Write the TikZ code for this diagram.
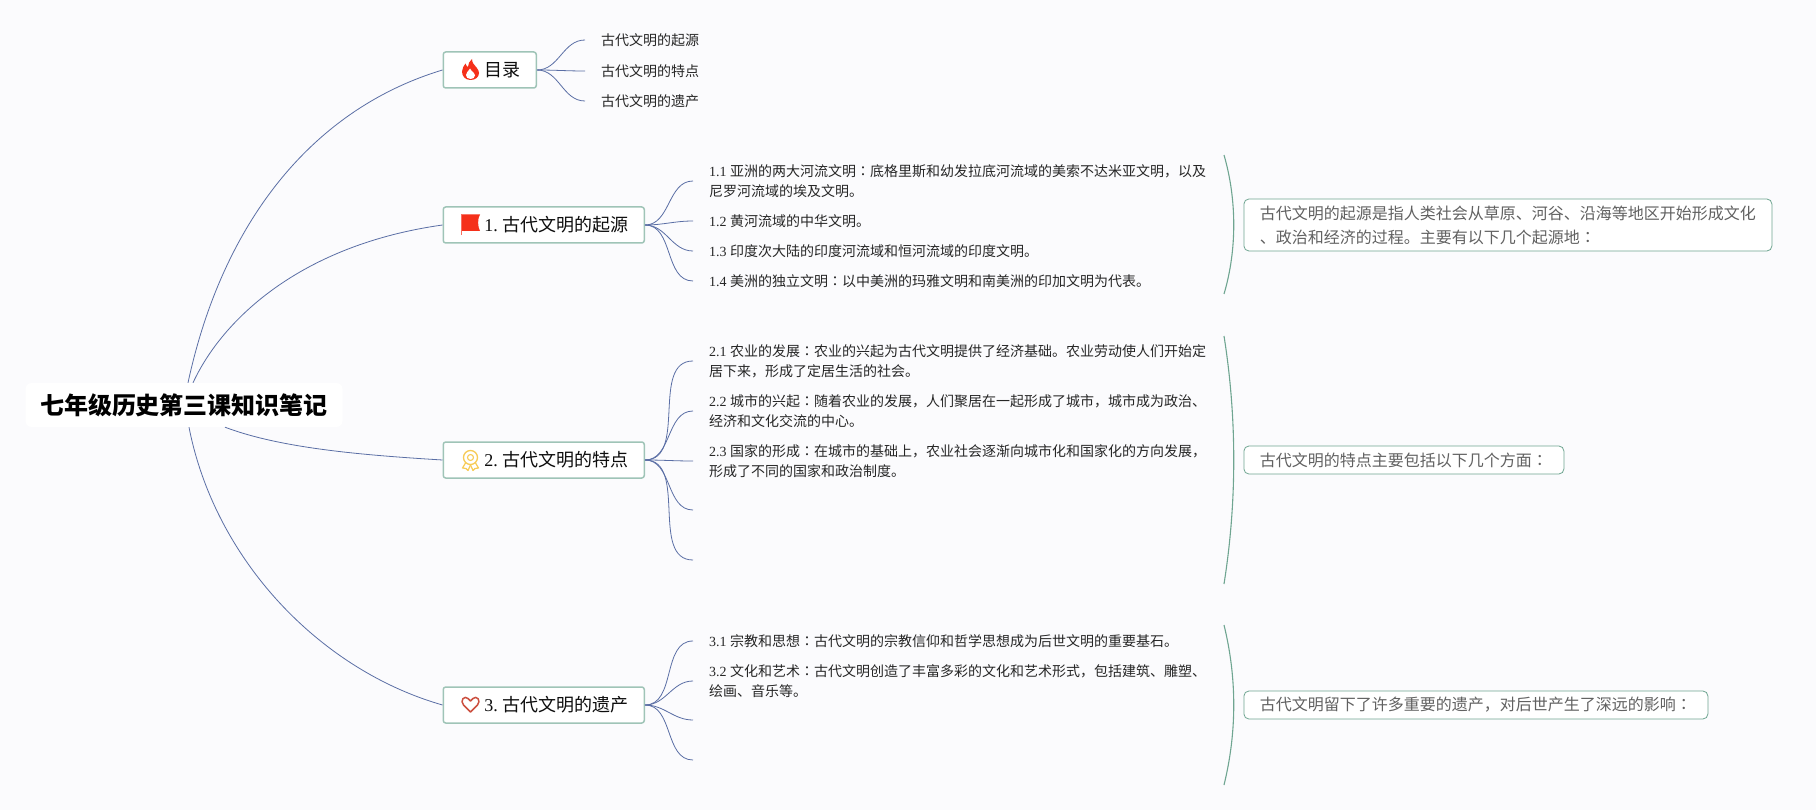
\documentclass[tikz,border=0pt]{standalone}
\usepackage{fontspec}
\setmainfont{Noto Sans CJK SC}
\newfontfamily\latinfont{Liberation Serif}
\newfontfamily\jpfont{Noto Sans CJK JP}
\newcommand{\numlbl}[1]{{\latinfont #1\ }}
\newcommand{\fwcolon}{{\jpfont ：}}
\usetikzlibrary{arrows.meta,positioning,calc}
\definecolor{pagebg}{HTML}{FBFBFD}
\definecolor{linkblue}{HTML}{5A6EA5}
\definecolor{topicgreen}{HTML}{9FC4B7}
\definecolor{sumgreen}{HTML}{6FA591}
\definecolor{iconred}{HTML}{F5301A}
\definecolor{iconyellow}{HTML}{F7CB55}
\definecolor{heartred}{HTML}{CC5040}

\begin{document}
\begin{tikzpicture}[
  x=1pt, y=-1pt,
  rootbox/.style={fill=white, rounded corners=6pt, minimum width=317pt, minimum height=44pt,
    inner sep=0pt, font=\fontsize{24}{28}\selectfont\bfseries, text=black},
  topic/.style={draw=topicgreen, fill=white, line width=1.5pt, rounded corners=2.5pt, anchor=west,
    minimum height=36pt, inner sep=0pt, font=\fontsize{18}{22}\selectfont, text=black!95},
  leaf/.style={anchor=west, inner xsep=16pt, inner ysep=0pt, align=left,
    font=\fontsize{14}{20}\selectfont, text=black!85},
  sumbox/.style={draw=sumgreen, fill=white, line width=.8pt, rounded corners=5pt, anchor=west,
    inner xsep=16pt, inner ysep=2pt, minimum height=28pt, align=left,
    font=\fontsize{16}{24}\selectfont, text=black!62},
  link/.style={draw=linkblue, line width=.8pt},
  twig/.style={draw=linkblue, line width=.8pt},
  brace/.style={draw=sumgreen, line width=1.1pt},
]
\fill[pagebg] (0,0) rectangle (1816,810);
\useasboundingbox (0,0) rectangle (1816,810);

\node[rootbox] (root) at (184,405) {七年级历史第三课知识笔记};

\node[topic, minimum width=93pt]  (toc)  at (442.5,70)  {\hspace*{25pt}目录};
\node[topic, minimum width=201pt] (sec1) at (442.5,225) {\hspace*{25pt}\numlbl{1.}古代文明的起源};
\node[topic, minimum width=201pt] (sec2) at (442.5,460) {\hspace*{25pt}\numlbl{2.}古代文明的特点};
\node[topic, minimum width=201pt] (sec3) at (442.5,705) {\hspace*{25pt}\numlbl{3.}古代文明的遗产};

\draw[link] ([xshift=4pt]root.north) .. controls (222,225) and (310,110) .. (toc.west);
\draw[link] ([xshift=9pt]root.north) .. controls (222,320) and (300,245) .. (sec1.west);
\draw[link] ([xshift=41pt]root.south) .. controls (280,448) and (360,455) .. (sec2.west);
\draw[link] ([xshift=5pt]root.south) .. controls (215,560) and (320,670) .. (sec3.west);

\node[leaf] (toc1) at (585,40)  {古代文明的起源};
\node[leaf] (toc2) at (585,71)  {古代文明的特点};
\node[leaf] (toc3) at (585,101) {古代文明的遗产};

\node[leaf] (p11) at (693,181) {\numlbl{1.1}亚洲的两大河流文明\fwcolon 底格里斯和幼发拉底河流域的美索不达米亚文明，以及\\尼罗河流域的埃及文明。};
\node[leaf] (p12) at (693,221) {\numlbl{1.2}黄河流域的中华文明。};
\node[leaf] (p13) at (693,251) {\numlbl{1.3}印度次大陆的印度河流域和恒河流域的印度文明。};
\node[leaf] (p14) at (693,281) {\numlbl{1.4}美洲的独立文明\fwcolon 以中美洲的玛雅文明和南美洲的印加文明为代表。};

\node[leaf] (p21) at (693,361) {\numlbl{2.1}农业的发展\fwcolon 农业的兴起为古代文明提供了经济基础。农业劳动使人们开始定\\居下来，形成了定居生活的社会。};
\node[leaf] (p22) at (693,411) {\numlbl{2.2}城市的兴起\fwcolon 随着农业的发展，人们聚居在一起形成了城市，城市成为政治、\\经济和文化交流的中心。};
\node[leaf] (p23) at (693,461) {\numlbl{2.3}国家的形成\fwcolon 在城市的基础上，农业社会逐渐向城市化和国家化的方向发展，\\形成了不同的国家和政治制度。};
\coordinate (p24) at (693,510);
\coordinate (p25) at (693,560);

\node[leaf] (p31) at (693,641) {\numlbl{3.1}宗教和思想\fwcolon 古代文明的宗教信仰和哲学思想成为后世文明的重要基石。};
\node[leaf] (p32) at (693,681) {\numlbl{3.2}文化和艺术\fwcolon 古代文明创造了丰富多彩的文化和艺术形式，包括建筑、雕塑、\\绘画、音乐等。};
\coordinate (p33) at (693,720);
\coordinate (p34) at (693,760);

\foreach \src/\dst in {toc/toc1,toc/toc2,toc/toc3,
                       sec1/p11,sec1/p12,sec1/p13,sec1/p14,
                       sec2/p21,sec2/p22,sec2/p23,sec2/p24,sec2/p25,
                       sec3/p31,sec3/p32,sec3/p33,sec3/p34}
  \draw[twig] (\src.east) to[out=0, in=180] (\dst);

\coordinate (b1t) at (1224,155);
\coordinate (b1b) at (1224,294);
\coordinate (b2t) at (1224,336);
\coordinate (b2b) at (1224,584);
\coordinate (b3t) at (1224,625);
\coordinate (b3b) at (1224,785);
\draw[brace] (b1t) .. controls (1237,200) and (1237,250) .. (b1b);
\draw[brace] (b2t) .. controls (1237,418) and (1237,502) .. (b2b);
\draw[brace] (b3t) .. controls (1237,678) and (1237,732) .. (b3b);

\node[sumbox, text width=496pt, minimum height=52pt] (sum1) at (1243.5,225) {古代文明的起源是指人类社会从草原、河谷、沿海等地区开始形成文化\\、政治和经济的过程。主要有以下几个起源地\fwcolon};
\node[sumbox, text width=288pt] (sum2) at (1243.5,460) {古代文明的特点主要包括以下几个方面\fwcolon};
\node[sumbox, text width=432pt] (sum3) at (1243.5,705) {古代文明留下了许多重要的遗产，对后世产生了深远的影响\fwcolon};

\fill[iconred] (470.5,80) .. controls (465,80) and (462,76) .. (462,71.5)
  .. controls (462,68) and (464,66) .. (465.5,63.5) .. controls (466,65.5) and (467,66.5) .. (468,67)
  .. controls (468,64) and (469.5,61) .. (472,59) .. controls (472,63) and (474.5,65) .. (476.5,67.5)
  .. controls (478,69.5) and (479,71) .. (479,73) .. controls (479,77) and (475.5,80) .. (470.5,80) -- cycle;
\fill[white] (470.5,79) .. controls (467.5,79) and (466,77) .. (466,75)
  .. controls (466,73) and (468,71.5) .. (470,68.5) .. controls (471,71) and (475,73) .. (475,75.5)
  .. controls (475,77.5) and (473,79) .. (470.5,79) -- cycle;

\fill[iconred] (461.5,214.5) -- (480,214.5) .. controls (477.5,218) and (477.5,227) .. (480,231) -- (461.5,231) -- cycle;
\draw[iconred!70, line width=.7pt] (461.7,214.5) -- (461.7,235);

\draw[iconyellow, line width=1.3pt] (470.5,457.5) circle (7);
\draw[iconyellow, line width=1.1pt] (470.5,457.5) circle (3);
\draw[iconyellow, line width=1.2pt, line join=round] (465.5,463) -- (462.5,468) -- (466,468.5) -- (468,470.5) -- (470.5,465);
\draw[iconyellow, line width=1.2pt, line join=round] (475.5,463) -- (478.5,468) -- (475,468.5) -- (473,470.5) -- (470.5,465);

\draw[heartred, line width=1.5pt, line join=round] (470.5,712) -- (463.5,705)
  .. controls (459.5,700.5) and (464.5,695) .. (468,698.5) -- (470.5,701) -- (473,698.5)
  .. controls (476.5,695) and (481.5,700.5) .. (477.5,705) -- cycle;
\end{tikzpicture}
\end{document}
